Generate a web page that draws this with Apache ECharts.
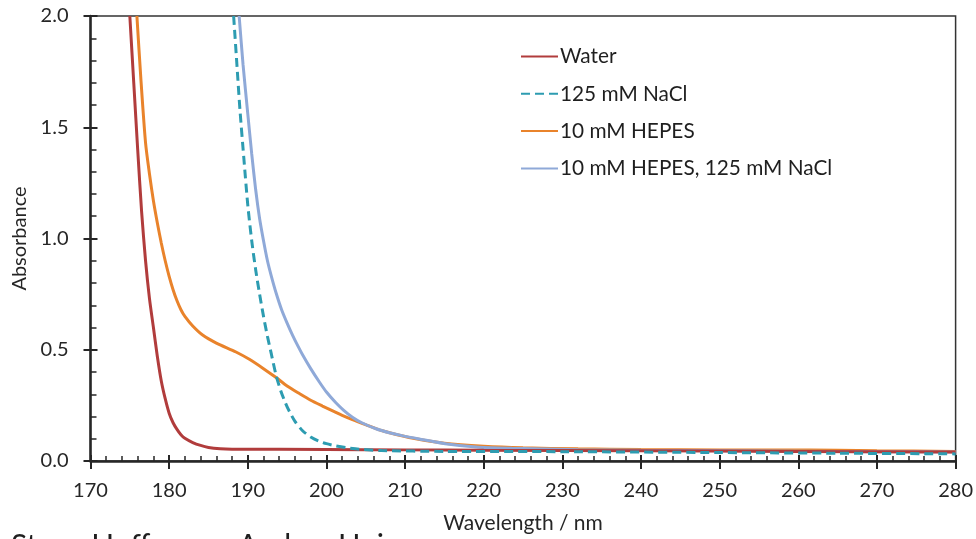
<!DOCTYPE html>
<html>
<head>
<meta charset="utf-8">
<script src="https://cdn.jsdelivr.net/npm/echarts@6/dist/echarts.min.js"></script>
<style>
html,body{margin:0;padding:0;background:#fff;}
#c{width:976px;height:539px;}
</style>
</head>
<body>
<div id="c"></div>
<script>
// ---- Data ----
const seriesNames = ['Water', '125 mM NaCl', '10 mM HEPES', '10 mM HEPES, 125 mM NaCl'];
const xTicks = [170, 180, 190, 200, 210, 220, 230, 240, 250, 260, 270, 280];
const yTicks = [0.0, 0.5, 1.0, 1.5, 2.0];

const waterWl = [175.0, 175.5, 176.0, 176.5, 177.0, 177.5, 178.0, 178.5, 179.0, 179.5, 180.0, 180.5, 181.0, 181.5, 182.0, 183.0, 184.0, 185.0, 186.5, 188, 200, 210, 220, 240, 260, 280];
const waterAbs = [2.0, 1.70, 1.40, 1.12, 0.90, 0.73, 0.60, 0.47, 0.36, 0.28, 0.215, 0.172, 0.142, 0.118, 0.102, 0.083, 0.07, 0.061, 0.055, 0.053, 0.052, 0.05, 0.048, 0.046, 0.043, 0.04];

const naclWl = [188.2, 188.6, 189.0, 189.5, 190.0, 190.5, 191.0, 191.5, 192.0, 192.5, 193.0, 193.6, 194.2, 194.8, 195.3, 196.0, 197.0, 198.0, 199.0, 200.0, 201.2, 202.5, 204.2, 207, 215, 230, 250, 265, 280];
const naclAbs = [2.0, 1.79, 1.58, 1.36, 1.15, 0.99, 0.86, 0.75, 0.65, 0.56, 0.48, 0.385, 0.315, 0.26, 0.222, 0.178, 0.135, 0.108, 0.09, 0.078, 0.068, 0.06, 0.053, 0.047, 0.043, 0.042, 0.038, 0.035, 0.032];

const hepesWl = [175.9, 176.4, 177.0, 177.5, 178.0, 178.5, 179.0, 179.5, 180.0, 180.5, 181.0, 181.5, 182.0, 183.0, 184.3, 186.0, 188.5, 190.2, 192.0, 193.6, 195.0, 196.6, 198.0, 199.5, 201.0, 202.0, 203.3, 205.4, 207.0, 210.5, 215, 220, 225, 232, 240, 250, 258, 265, 270, 280];
const hepesAbs = [2.0, 1.72, 1.43, 1.29, 1.17, 1.07, 0.98, 0.90, 0.83, 0.77, 0.72, 0.68, 0.65, 0.607, 0.565, 0.53, 0.49, 0.457, 0.415, 0.375, 0.337, 0.302, 0.273, 0.247, 0.222, 0.205, 0.186, 0.158, 0.137, 0.106, 0.08, 0.066, 0.059, 0.055, 0.052, 0.05, 0.05, 0.048, 0.046, 0.043];

const mixWl = [188.9, 189.4, 190.0, 190.5, 191.0, 191.5, 192.0, 192.5, 193.0, 193.6, 194.3, 195.0, 195.7, 196.4, 197.0, 198.0, 199.1, 200.0, 201.2, 202.2, 203.3, 204.5, 206.3, 208.0, 209.6, 211.8, 215.1, 219.4, 223.6, 232, 240, 250, 260, 270, 280];
const mixAbs = [2.0, 1.78, 1.56, 1.38, 1.22, 1.09, 0.99, 0.90, 0.83, 0.755, 0.68, 0.62, 0.565, 0.515, 0.475, 0.415, 0.355, 0.31, 0.262, 0.228, 0.197, 0.172, 0.145, 0.127, 0.114, 0.099, 0.078, 0.062, 0.057, 0.051, 0.048, 0.046, 0.044, 0.042, 0.04];

const colors = ['#b13c3c', '#2d9cb1', '#e9832b', '#8fa9d8'];

function pairs(xs, ys) { return xs.map((x, i) => [x, ys[i]]); }

const FONT = 'Lato';
const AXIS = '#262626';

const chart = echarts.init(document.getElementById('c'), null, {renderer: 'canvas'});

const gridPos = {left: 90.5, right: 18, top: 16, bottom: 77};

function lineSeries(i, wl, abs, extra) {
  return Object.assign({
    name: seriesNames[i], type: 'line', data: pairs(wl, abs),
    showSymbol: false, symbol: 'none', smooth: 0.25, clip: true,
    lineStyle: {color: colors[i], width: 3}, itemStyle: {color: colors[i]}
  }, extra || {});
}

const option = {
  animation: false,
  backgroundColor: '#ffffff',
  textStyle: {fontFamily: FONT},
  grid: Object.assign({show: true, borderColor: '#333', borderWidth: 1.5, backgroundColor: 'transparent', containLabel: false}, gridPos),
  legend: {
    orient: 'vertical',
    left: 515,
    top: 41,
    itemWidth: 37,
    itemHeight: 14,
    itemGap: 16.3,
    itemStyle: {opacity: 0},
    textStyle: {fontFamily: FONT, fontSize: 20.8, color: '#1f1f1f', padding: [0, 0, 0, -3]},
    data: seriesNames
  },
  xAxis: [{
    type: 'value', min: 170, max: 280, interval: 10,
    name: 'Wavelength / nm', nameLocation: 'middle', nameGap: 52,
    nameTextStyle: {fontFamily: FONT, fontSize: 21, color: '#262626'},
    axisLine: {show: true, onZero: false, lineStyle: {color: AXIS, width: 2.5}},
    axisTick: {show: true, inside: true, length: 6, lineStyle: {color: AXIS, width: 2}},
    minorTick: {show: true, splitNumber: 5, length: 5, lineStyle: {color: AXIS, width: 1.5}},
    axisLabel: {fontFamily: FONT, fontSize: 20, color: '#262626', margin: 20,
      formatter: v => xTicks.includes(v) ? String(v) : ''},
    splitLine: {show: false}
  }, {
    type: 'value', min: 170, max: 280, interval: 10, position: 'bottom',
    axisLine: {show: false},
    axisTick: {show: true, inside: false, length: 8, lineStyle: {color: AXIS, width: 2}},
    axisLabel: {show: false}, splitLine: {show: false}
  }],
  yAxis: [{
    type: 'value', min: 0, max: 2, interval: 0.5,
    name: 'Absorbance', nameLocation: 'middle', nameGap: 58, nameRotate: 90,
    nameTextStyle: {fontFamily: FONT, fontSize: 20, color: '#262626'},
    axisLine: {show: true, onZero: false, lineStyle: {color: AXIS, width: 2.5}},
    axisTick: {show: true, inside: true, length: 7, lineStyle: {color: AXIS, width: 2}},
    minorTick: {show: true, splitNumber: 5, length: 6, lineStyle: {color: AXIS, width: 1.5}},
    axisLabel: {fontFamily: FONT, fontSize: 20, color: '#262626', margin: 22,
      formatter: v => yTicks.some(t => Math.abs(t - v) < 1e-9) ? v.toFixed(1) : ''},
    splitLine: {show: false}
  }, {
    type: 'value', min: 0, max: 2, interval: 0.5, position: 'left',
    axisLine: {show: false},
    axisTick: {show: true, inside: false, length: 7, lineStyle: {color: AXIS, width: 2}},
    axisLabel: {show: false}, splitLine: {show: false}
  }],
  series: [
    lineSeries(0, waterWl, waterAbs, {z: 3}),
    lineSeries(1, naclWl, naclAbs, {z: 4, lineStyle: {color: colors[1], width: 3, type: [9, 5]}}),
    lineSeries(2, hepesWl, hepesAbs, {z: 2}),
    lineSeries(3, mixWl, mixAbs, {z: 2})
  ],
  graphic: [{
    type: 'text', left: 11, top: 531,
    style: {text: 'Steve Hoffmann, Aarhus Uni', fontFamily: FONT, fontSize: 30, fill: '#1f1f1f'}
  }]
};
chart.setOption(option);
</script>
</body>
</html>
